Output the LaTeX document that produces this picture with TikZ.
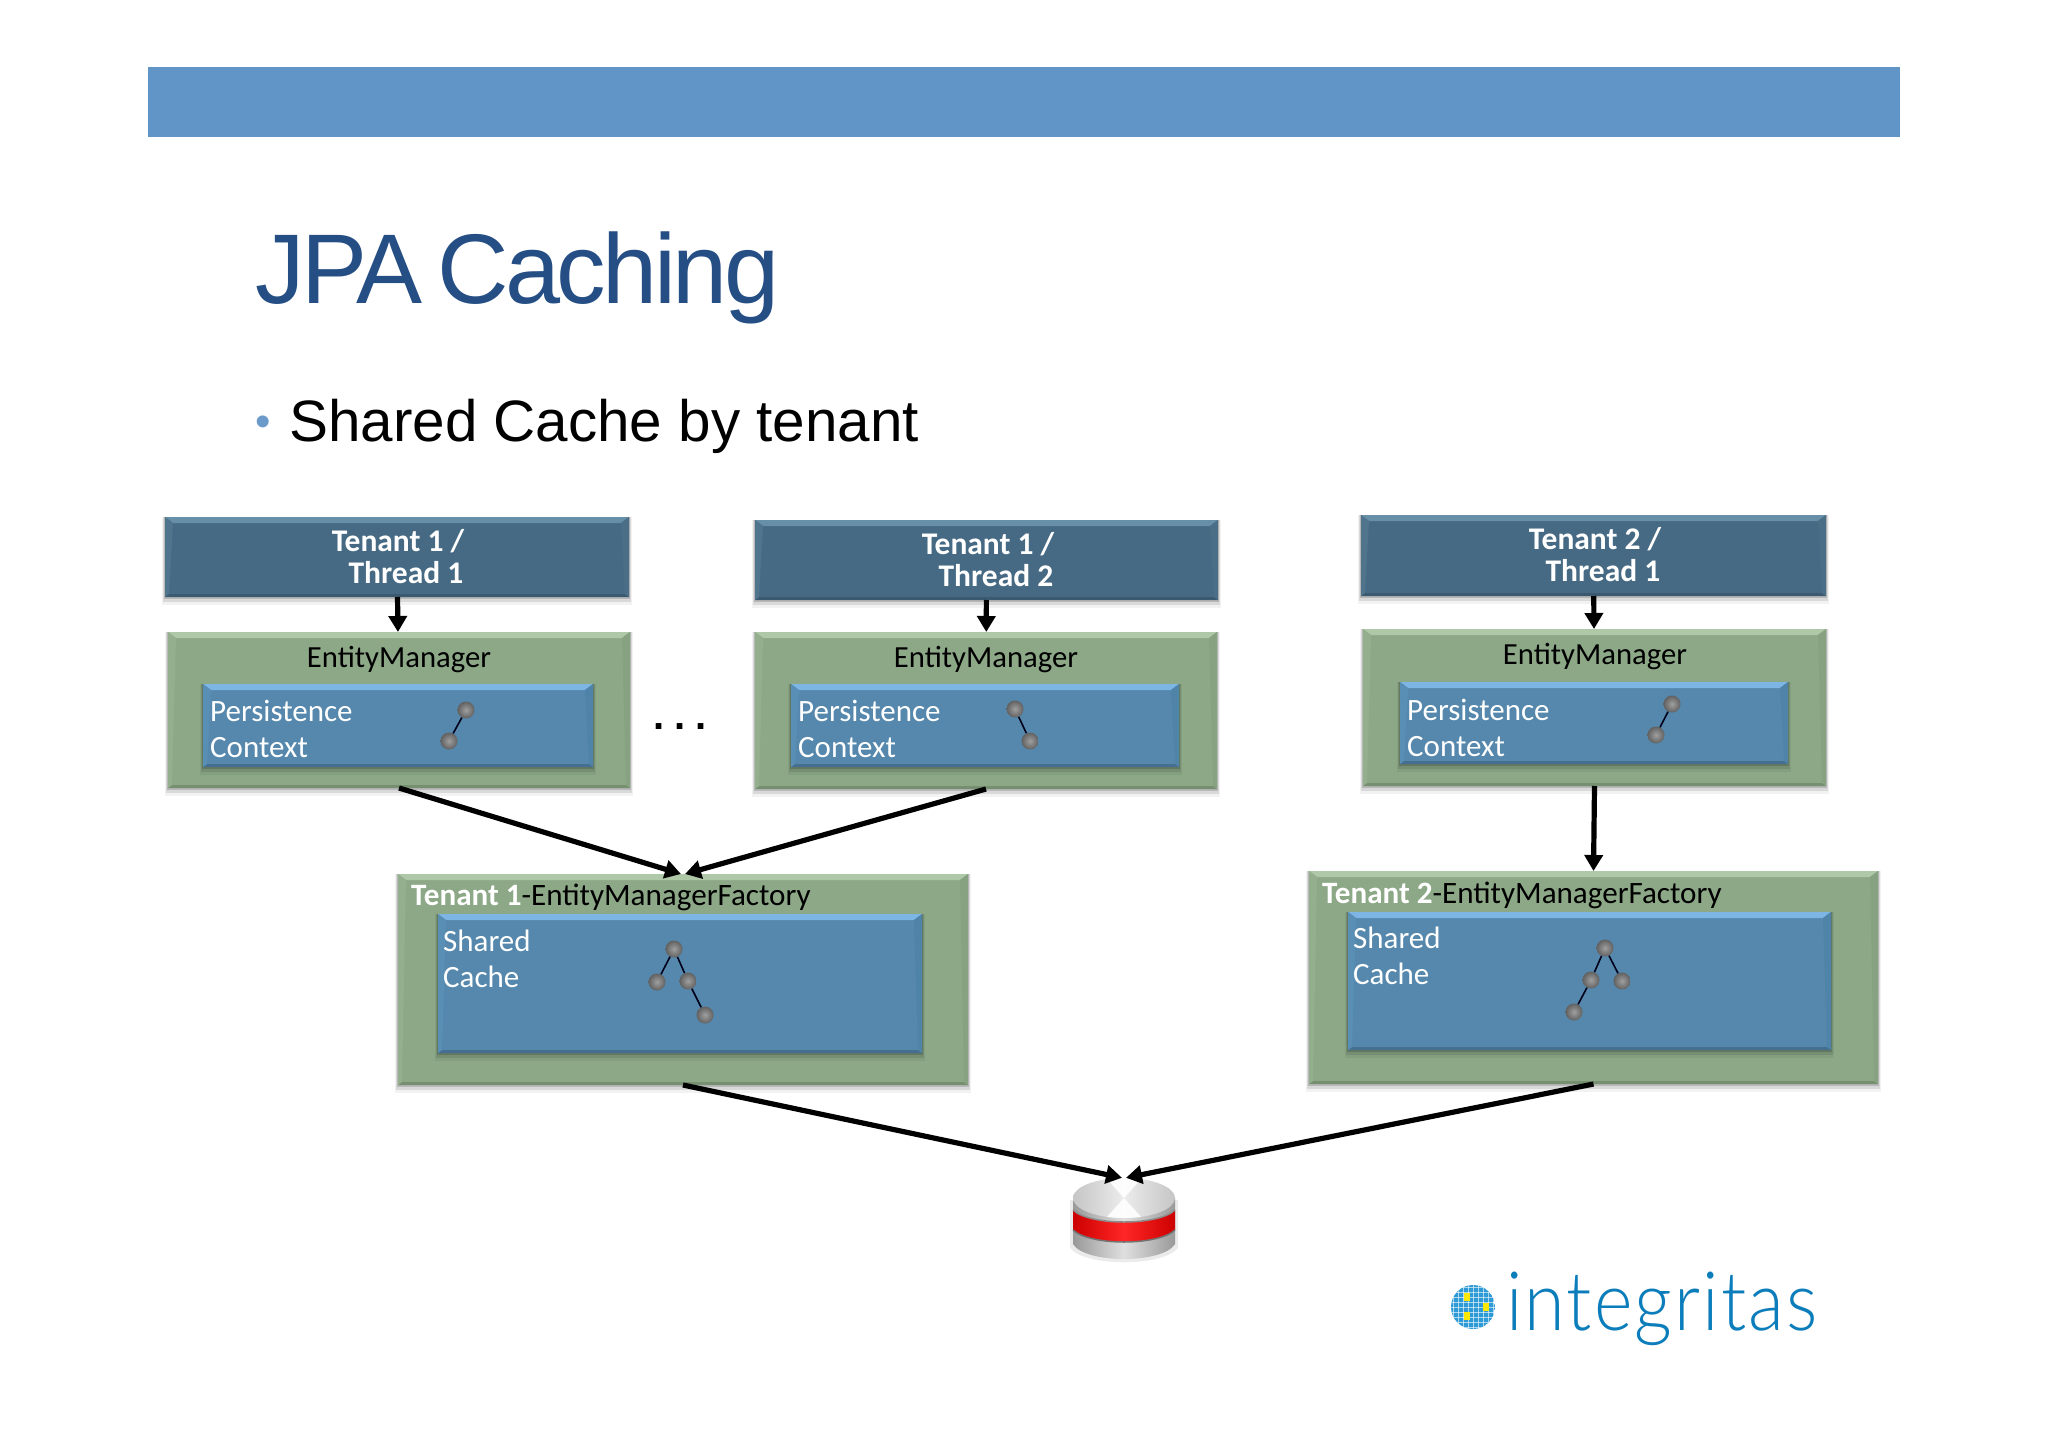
\documentclass[tikz,border=0pt]{standalone}
\usepackage{fontspec}
\setmainfont{Carlito}
\newfontfamily\arialf{Liberation Sans}
\newfontfamily\logof[FakeStretch=0.9,LetterSpace=2.5]{Lato Light}
\usetikzlibrary{arrows.meta,calc}
\definecolor{headbar}{HTML}{6195C8}
\definecolor{titleblue}{HTML}{254E84}
\definecolor{bulletblue}{HTML}{6C9BCB}
\definecolor{logoblue}{HTML}{0C7DBB}
\definecolor{globeblue}{HTML}{2E9AD6}
\definecolor{tbase}{HTML}{466A84}
\definecolor{ttop}{HTML}{6790A8}
\definecolor{tbot}{HTML}{3B5A70}
\definecolor{tleft}{HTML}{4F748C}
\definecolor{tright}{HTML}{4A6E86}
\definecolor{gbase}{HTML}{8CA887}
\definecolor{gtop}{HTML}{AFC8A7}
\definecolor{gbot}{HTML}{768F71}
\definecolor{gleft}{HTML}{93AF8E}
\definecolor{gright}{HTML}{86A281}
\definecolor{bbase}{HTML}{5588AC}
\definecolor{btop}{HTML}{7DB6E4}
\definecolor{bbot}{HTML}{446F90}
\definecolor{bleft}{HTML}{5A8FB5}
\definecolor{bright}{HTML}{5083A8}
\tikzset{
  bevelled/.style n args={5}{
    rectangle,inner sep=0pt,outer sep=0pt,fill=#1,
    path picture={
      \coordinate (nw) at (path picture bounding box.north west);
      \coordinate (ne) at (path picture bounding box.north east);
      \coordinate (sw) at (path picture bounding box.south west);
      \coordinate (se) at (path picture bounding box.south east);
      \fill[#2] (nw) -- (ne) -- ([xshift=-8pt,yshift=-6pt]ne) -- ([xshift=8pt,yshift=-6pt]nw) -- cycle;
      \fill[#3] (sw) -- (se) -- ([xshift=-4pt,yshift=3pt]se) -- ([xshift=4pt,yshift=3pt]sw) -- cycle;
      \fill[#4] (nw) -- ([xshift=8pt,yshift=-6pt]nw) -- ([xshift=4pt,yshift=3pt]sw) -- (sw) -- cycle;
      \fill[#5] (ne) -- ([xshift=-8pt,yshift=-6pt]ne) -- ([xshift=-4pt,yshift=3pt]se) -- (se) -- cycle;
    }},
  tenantbox/.style={bevelled={tbase}{ttop}{tbot}{tleft}{tright}},
  greenbox/.style={bevelled={gbase}{gtop}{gbot}{gleft}{gright}},
  bluebox/.style={bevelled={bbase}{btop}{bbot}{bleft}{bright}},
  tenantlabel/.style={align=center,text=white,font=\bfseries\fontsize{31.5}{32}\selectfont},
  emlabel/.style={anchor=base,text=black,font=\fontsize{30.7}{32}\selectfont},
  innerlabel/.style={align=left,anchor=north west,inner sep=0pt,text=white,font=\fontsize{31}{36}\selectfont},
  factorylabel/.style={anchor=base west,inner sep=0pt,text=black,font=\fontsize{31.1}{32}\selectfont},
  ballnode/.style={circle,inner sep=0pt,minimum size=17pt,shading=radial,inner color=gray!75,outer color=black!62},
  treeedge/.style={line width=1.6pt,black!90!blue},
  conn/.style={-{Triangle[length=16pt,width=18pt]},line width=5.2pt,black},
}
% style, name, x1, y1, x2, y2 (reference pixels)
\newcommand{\bx}[6]{%
  \pgfmathsetmacro{\bxw}{#5-#3}\pgfmathsetmacro{\bxh}{#6-#4}%
  \pgfmathsetmacro{\bxc}{(#3+#5)/2}\pgfmathsetmacro{\bxm}{(#4+#6)/2}%
  \fill[black,opacity=.05] (#3-3,#4) rectangle (#5+3,#6+8);
  \fill[black,opacity=.10] (#3-2,#4) rectangle (#5+2,#6+5);
  \fill[black,opacity=.15] (#3-1,#4) rectangle (#5+1,#6+2);
  \node[#1,minimum width=\bxw pt,minimum height=\bxh pt] (#2) at (\bxc,\bxm) {};
}
\begin{document}
\begin{tikzpicture}[x=1pt,y=-1pt]
\useasboundingbox (0,0) rectangle (2048,1447);
\fill[white] (0,0) rectangle (2048,1447);
% header and texts
\fill[headbar] (148,67) rectangle (1900,137);
\node[anchor=base west,inner sep=0pt,text=titleblue,font=\arialf\fontsize{99}{110}\selectfont] (title) at (255,304) {\addfontfeature{LetterSpace=-3.6}JPA\hspace{15pt}Caching};
\node[anchor=base west,inner sep=0pt,text=bulletblue,font=\arialf\fontsize{44}{50}\selectfont] (bullet) at (255,436) {•};
\node[anchor=base west,inner sep=0pt,text=black,font=\arialf\fontsize{58.4}{66}\selectfont] (sub) at (289,441) {Shared Cache by tenant};
% boxes
\bx{tenantbox}{t1}{165}{517}{629}{597}
\bx{tenantbox}{t2}{755}{520}{1218}{600}
\bx{tenantbox}{t3}{1361}{515}{1826}{596}
\bx{greenbox}{em1}{168}{632}{630}{788}
\bx{greenbox}{em2}{755}{632}{1217}{789}
\bx{greenbox}{em3}{1363}{629}{1826}{786}
\bx{bluebox}{pc1}{203}{684}{593}{767}
\bx{bluebox}{pc2}{791}{684}{1179}{767}
\bx{bluebox}{pc3}{1400}{682}{1788}{764}
\bx{greenbox}{f1}{398}{874}{968}{1085}
\bx{greenbox}{f2}{1309}{871}{1878}{1084}
\bx{bluebox}{sc1}{438}{914}{922}{1053}
\bx{bluebox}{sc2}{1348}{912}{1831}{1050}
% tenant labels
\node[tenantlabel] (t1txt) at (398,557) {Tenant 1 /\\\hspace*{16pt}Thread 1};
\node[tenantlabel] (t2txt) at (988,560) {Tenant 1 /\\\hspace*{16pt}Thread 2};
\node[tenantlabel] (t3txt) at (1595,555) {Tenant 2 /\\\hspace*{16pt}Thread 1};
% entity manager labels
\node[emlabel] (em1txt) at (399,667) {EntityManager};
\node[emlabel] (em2txt) at (986,667) {EntityManager};
\node[emlabel] (em3txt) at (1595,664) {EntityManager};
% inner labels
\node[innerlabel] (pc1txt) at (210,700) {Persistence\\Context};
\node[innerlabel] (pc2txt) at (798,700) {Persistence\\Context};
\node[innerlabel] (pc3txt) at (1407,699) {Persistence\\Context};
\node[innerlabel] (sc1txt) at (443,930) {Shared\\Cache};
\node[innerlabel] (sc2txt) at (1353,927) {Shared\\Cache};
% factory labels
\node[factorylabel] (f1txt) at (411,905) {\textcolor{white}{\bfseries Tenant 1}-EntityManagerFactory};
\node[factorylabel] (f2txt) at (1322,903) {\textcolor{white}{\bfseries Tenant 2}-EntityManagerFactory};
% dots
\node[anchor=base,inner sep=0pt,font=\arialf\bfseries\fontsize{40}{42}\selectfont] (dots) at (680,729) {.\hspace{10pt}.\hspace{10pt}.};
% small graphs
\node[ballnode] (a1) at (466,710) {};
\node[ballnode] (a2) at (449,741) {};
\node[ballnode] (b1) at (1015,709) {};
\node[ballnode] (b2) at (1030,741) {};
\node[ballnode] (c1) at (1672,704) {};
\node[ballnode] (c2) at (1656,735) {};
\node[ballnode] (d1) at (674,949) {};
\node[ballnode] (d2) at (657,982) {};
\node[ballnode] (d3) at (688,981) {};
\node[ballnode] (d4) at (705,1015) {};
\node[ballnode] (e1) at (1605,948) {};
\node[ballnode] (e2) at (1622,981) {};
\node[ballnode] (e3) at (1591,980) {};
\node[ballnode] (e4) at (1574,1012) {};
\foreach \p/\q in {a1/a2,b1/b2,c1/c2,d1/d2,d1/d3,d3/d4,e1/e2,e1/e3,e3/e4}
  \draw[treeedge] (\p) -- (\q);
% database
\coordinate (db) at (1124,1198);
\fill[black,opacity=.08] (1070,1200) -- (1070,1248) .. controls (1085,1267) and (1163,1267) .. (1178,1248) -- (1178,1200) -- cycle;
\shade[left color=gray!80,right color=gray!80,middle color=gray!25]
  (1073,1198) -- (1073,1244) .. controls (1085,1264) and (1163,1264) .. (1175,1244) -- (1175,1198) -- cycle;
\shade[left color=red!80!black,right color=red!80!black,middle color=red!85!white]
  (1073,1210) .. controls (1090,1226) and (1158,1226) .. (1175,1210) -- (1175,1230) .. controls (1158,1246) and (1090,1246) .. (1073,1230) -- cycle;
\draw[black!45,line width=1.5pt] (1073,1210) .. controls (1090,1226) and (1158,1226) .. (1175,1210);
\draw[black!55,line width=1.5pt] (1073,1230) .. controls (1090,1246) and (1158,1246) .. (1175,1230);
\begin{scope}
  \clip (db) ellipse[x radius=51,y radius=20];
  \shade[left color=gray!45,right color=gray!45,middle color=gray!15] (1073,1178) rectangle (1175,1218);
  \fill[white,opacity=.9] (db) -- (1106,1178) -- (1142,1178) -- cycle;
  \fill[white,opacity=.9] (db) -- (1106,1218) -- (1142,1218) -- cycle;
\end{scope}
\node[inner sep=0pt,minimum width=104pt,minimum height=40pt] (dbtop) at (1124,1198) {};
% connectors
\draw[conn] (t1) -- (em1);
\draw[conn] (t2) -- (em2);
\draw[conn] (t3) -- (em3);
\coordinate (f1l) at ($(f1.north)+(-2,0)$);
\coordinate (f1r) at ($(f1.north)+(2,0)$);
\draw[conn] (em1.south) -- (f1l);
\draw[conn] (em2.south) -- (f1r);
\draw[conn] (em3.south) -- (f2.north);
\coordinate (dbl) at ($(dbtop.north)+(-2,0)$);
\coordinate (dbr) at ($(dbtop.north)+(2,0)$);
\draw[conn] (f1.south) -- (dbl);
\draw[conn] (f2.south) -- (dbr);
% logo
\begin{scope}
  \clip (1473,1307) circle[radius=22];
  \fill[globeblue] (1473,1307) circle[radius=22];
  \foreach \g in {-20,-15,...,20} {
    \draw[white,opacity=.6,line width=.8pt] (1473+\g,1285) -- (1473+\g,1329);
    \draw[white,opacity=.6,line width=.8pt] (1451,1307+\g) -- (1495,1307+\g);
  }
  \fill[yellow!90!orange] (1464,1293) rectangle (1470,1301);
  \fill[yellow!90!orange] (1464,1312) rectangle (1470,1320);
  \fill[yellow!90!orange] (1483,1303) rectangle (1489,1311);
\end{scope}
\node[anchor=base west,inner sep=0pt,text=logoblue,font=\logof\fontsize{82}{90}\selectfont] (logo) at (1506,1330) {integritas};
\end{tikzpicture}
\end{document}
